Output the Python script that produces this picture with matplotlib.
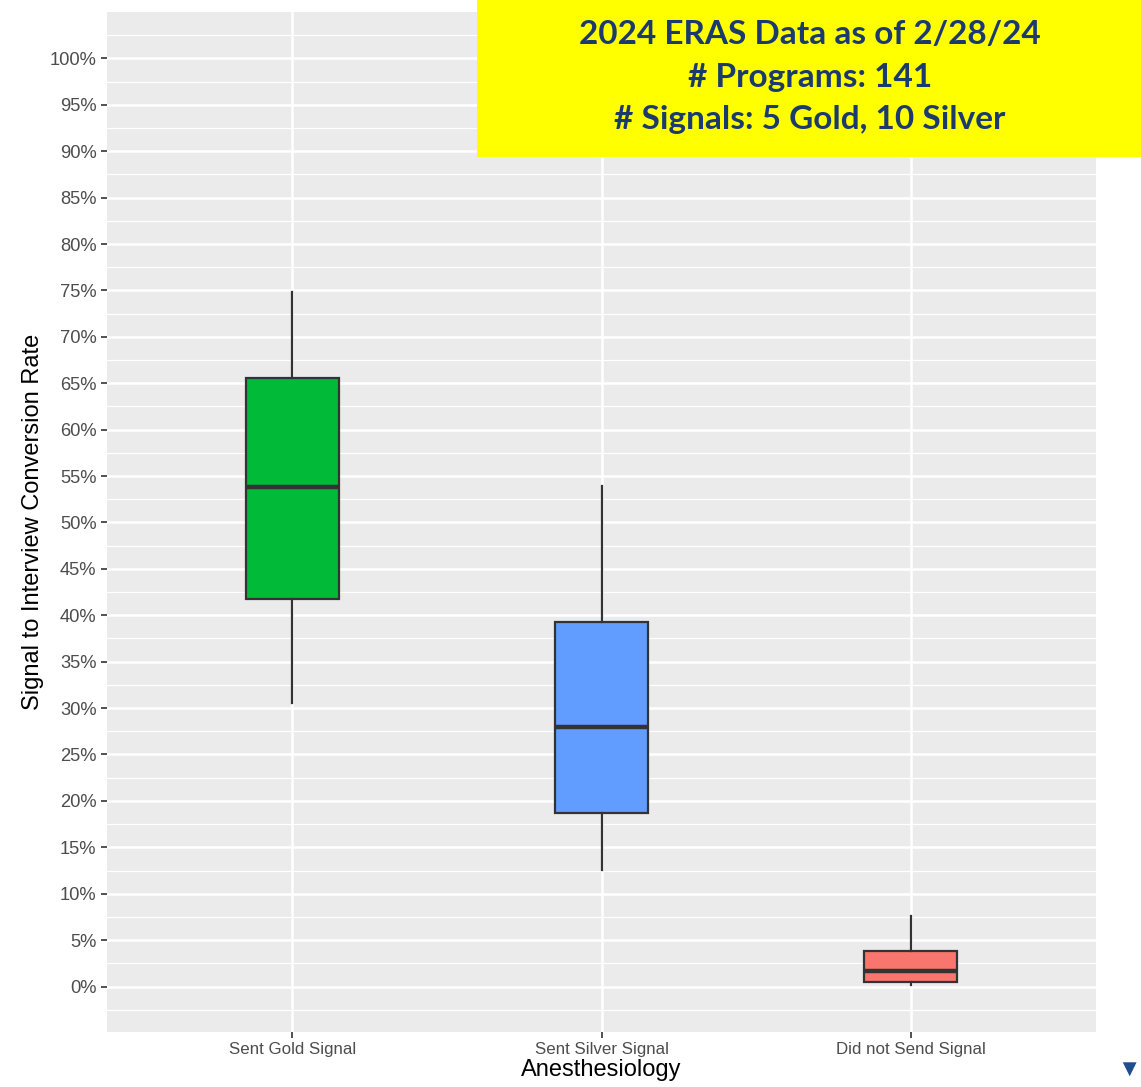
import numpy as np
import matplotlib.pyplot as plt
from matplotlib.patches import Rectangle

# box stats (in %)
groups = ["Sent Gold Signal", "Sent Silver Signal", "Did not Send Signal"]
whislo = [30.5, 12.6, 0.2]
q1 = [41.7, 18.7, 0.5]
med = [53.8, 28.0, 1.7]
q3 = [65.6, 39.3, 3.8]
whishi = [74.8, 53.9, 7.6]
colors = ["#00BA38", "#619CFF", "#F8766D"]

yticks = np.arange(0, 101, 5)
yticklabels = [f"{v}%" for v in yticks]

plt.rcParams['font.family'] = ['Liberation Sans', 'DejaVu Sans']

fig = plt.figure(figsize=(11.41, 10.87), dpi=100)
ax = fig.add_axes([107 / 1141, 1 - 1032 / 1087, (1096 - 107) / 1141, (1032 - 12) / 1087])

ax.set_facecolor("#EBEBEB")
for s in ax.spines.values():
    s.set_visible(False)

# grid
for v in np.arange(-2.5, 105, 5):
    ax.axhline(v, color="white", lw=0.9, zorder=0)
for v in yticks:
    ax.axhline(v, color="white", lw=1.8, zorder=0)
for x in range(1, 4):
    ax.axvline(x, color="white", lw=1.8, zorder=0)

stats = []
for i in range(len(groups)):
    stats.append(dict(whislo=whislo[i], q1=q1[i], med=med[i], q3=q3[i],
                      whishi=whishi[i], fliers=[], label=groups[i]))

bp = ax.bxp(stats, positions=[1, 2, 3], widths=0.3, patch_artist=True,
            showcaps=False,
            boxprops=dict(edgecolor="#333333", linewidth=1.6),
            medianprops=dict(color="#333333", linewidth=3.2),
            whiskerprops=dict(color="#333333", linewidth=1.6),
            zorder=3)
for patch, c in zip(bp["boxes"], colors):
    patch.set_facecolor(c)

ax.set_xlim(0.4, 3.6)
ax.set_ylim(-4.9, 105)
ax.set_yticks(yticks)
ax.set_yticklabels(yticklabels)
ax.set_xticks([1, 2, 3])
ax.set_xticklabels(groups)
ax.tick_params(axis="both", colors="#333333", labelcolor="#4D4D4D",
               length=4, width=1.2)
ax.tick_params(axis="y", labelsize=13.2)
ax.tick_params(axis="x", labelsize=12.2)
ax.set_ylabel("Signal to Interview Conversion Rate", fontsize=17, color="black",
              labelpad=4)
ax.set_xlabel("Anesthesiology", fontsize=17, color="black", labelpad=1)

# yellow annotation box
fig.patches.append(Rectangle((477 / 1141, 1 - 157 / 1087), 1, 157 / 1087,
                             transform=fig.transFigure, facecolor="#FFFF00",
                             edgecolor="none", zorder=5))
info = ["2024 ERAS Data as of 2/28/24", "# Programs: 141", "# Signals: 5 Gold, 10 Silver"]
for i, line in enumerate(info):
    fig.text(810 / 1141, 1 - (35 + 42.5 * i) / 1087, line, ha="center", va="center",
             fontsize=24, fontweight="bold", color="#1B3A6E", family="Lato",
             zorder=6)

# small logo fragment at bottom right
fig.text(1129 / 1141, 1 - 1071 / 1087, "\u25BC", ha="center", va="center",
         fontsize=17, color="#1F4E8C")

fig.savefig("out.png", dpi=100)
